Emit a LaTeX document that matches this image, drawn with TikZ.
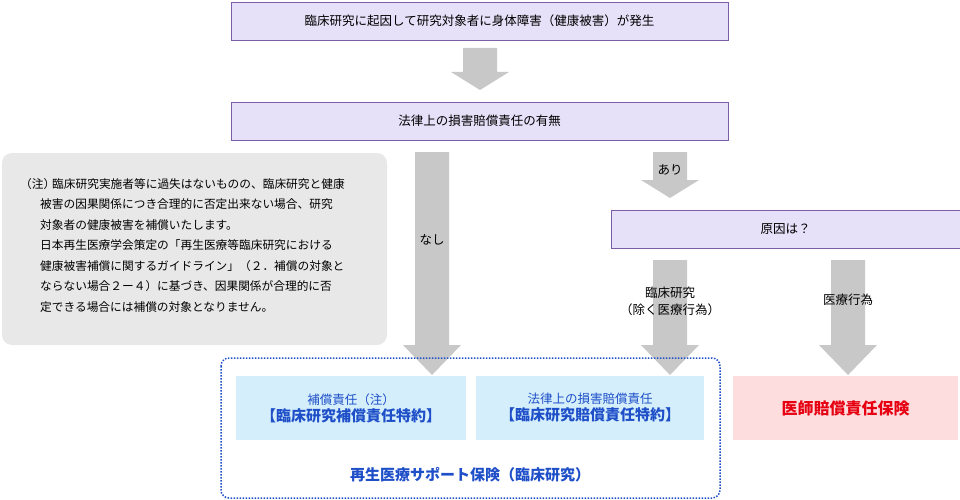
\documentclass[tikz,border=0pt]{standalone}
\usepackage{fontspec}
\setmainfont{Noto Sans CJK JP}
\definecolor{boxlav}{HTML}{E6E0F8}
\definecolor{boxline}{HTML}{7B5EA7}
\definecolor{arrgray}{HTML}{C8C8C8}
\definecolor{notegray}{HTML}{E8E8E8}
\definecolor{boxblue}{HTML}{D4EEFB}
\definecolor{txtblue}{HTML}{1E4FC8}
\definecolor{boxpink}{HTML}{FDDDDD}
\definecolor{txtred}{HTML}{E60012}
\tikzset{
  stage/.style={draw=boxline, fill=boxlav, minimum height=38pt, font=\fontsize{12.5}{14}\selectfont},
  plan/.style={fill=boxblue, minimum width=230pt, minimum height=64pt, align=center, font=\fontsize{12.5}{17}\selectfont, text=txtblue},
  lbl/.style={font=\fontsize{12.5}{17}\selectfont, align=center}
}
% fat down arrow: x, top y, head y, bottom y
\newcommand\fatdown[4]{%
  \fill[arrgray] (#1-17,#2) -- (#1+17,#2) -- (#1+17,#3) -- (#1+29,#3) -- (#1,#4) -- (#1-29,#3) -- (#1-17,#3) -- cycle;}
\begin{document}
\begin{tikzpicture}[x=1pt,y=-1pt]
\useasboundingbox (0,0) rectangle (960,500);

\node[stage, minimum width=497pt] (start) at (479.5,21) {臨床研究に起因して研究対象者に身体障害（健康被害）が発生};
\node[stage, minimum width=497pt] (law) at (479.5,121) {法律上の損害賠償責任の有無};
\node[stage, minimum width=349pt] (cause) at (785.5,229) {原因は？};

\fatdown{480}{48}{72}{90}
\fatdown{432}{152}{345}{375}
\fatdown{670}{152}{180}{198}
\fatdown{670}{260}{345}{375}
\fatdown{848}{260}{345}{375}

\node[lbl] (nashi) at (432,240) {なし};
\node[lbl] (ari) at (670,170) {あり};
\node[lbl] (rinsho) at (670,301) {臨床研究\\（除く医療行為）};
\node[lbl] (iryo) at (848,300) {医療行為};

% note
\fill[notegray, rounded corners=10pt] (2,153) rectangle (387,345);
\node[anchor=north west, inner sep=0pt, font=\fontsize{11.7}{20.5}\selectfont] (chu) at (20,178) {（注）};
\node[anchor=north west, inner sep=0pt, align=left, font=\fontsize{11.7}{20.5}\selectfont] (note) at (52,178)
  {臨床研究実施者等に過失はないものの、臨床研究と健康\\
   \hspace*{-12pt}被害の因果関係につき合理的に否定出来ない場合、研究\\
   \hspace*{-12pt}対象者の健康被害を補償いたします。\\
   \hspace*{-12pt}日本再生医療学会策定の「再生医療等臨床研究における\\
   \hspace*{-12pt}健康被害補償に関するガイドライン」（２．補償の対象と\\
   \hspace*{-12pt}ならない場合２ー４）に基づき、因果関係が合理的に否\\
   \hspace*{-12pt}定できる場合には補償の対象となりません。};

% plans
\draw[txtblue, dash pattern=on 1.5pt off 1.5pt, line width=1.5pt, rounded corners=8pt] (221,358) rectangle (720,498);
\node[plan] (hosho) at (351,408) {補償責任（注）\\{\fontsize{15}{19}\selectfont\bfseries 【臨床研究補償責任特約】}};
\node[plan, minimum width=228pt] (baisho) at (590,408) {法律上の損害賠償責任\\{\fontsize{15}{19}\selectfont\bfseries 【臨床研究賠償責任特約】}};
\node[plan, fill=boxpink, minimum width=225pt, text=txtred, font=\fontsize{16}{19}\selectfont\bfseries] (ishi) at (845.5,408) {医師賠償責任保険};
\node[text=txtblue, font=\fontsize{15}{19}\selectfont\bfseries] (regen) at (470,475) {再生医療サポート保険（臨床研究）};

\end{tikzpicture}
\end{document}
